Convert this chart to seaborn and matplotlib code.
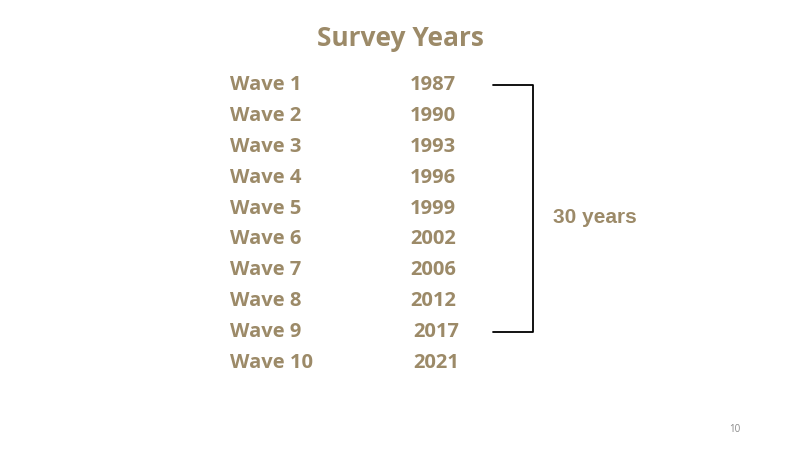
import matplotlib
matplotlib.use("Agg")
import matplotlib.pyplot as plt
import seaborn as sns

# Data
waves = ["Wave 1", "Wave 2", "Wave 3", "Wave 4", "Wave 5",
         "Wave 6", "Wave 7", "Wave 8", "Wave 9", "Wave 10"]
years = ["1987", "1990", "1993", "1996", "1999",
         "2002", "2006", "2012", "2017", "2021"]
span_label = "30 years"
span_rows = (0, 8)  # bracket from Wave 1 to Wave 9

sns.set_theme(style="white")
plt.rcParams['font.family'] = ['Open Sans', 'DejaVu Sans']

tan = "#9C8A68"
fig = plt.figure(figsize=(8, 4.5), dpi=100)
ax = fig.add_axes([0, 0, 1, 1])
ax.set_xlim(0, 800)
ax.set_ylim(450, 0)
ax.axis("off")

ax.text(400, 38, "Survey Years", ha="center", va="center", fontsize=19,
        fontweight="bold", color=tan)

y0, dy = 85, 30.9
for i, (w, yr) in enumerate(zip(waves, years)):
    y = y0 + i * dy
    ax.text(230, y, w, ha="left", va="center", fontsize=14.5,
            fontweight="bold", color=tan)
    xo = 410 if i < 8 else 413
    ax.text(xo, y, yr, ha="left", va="center", fontsize=14.5,
            fontweight="bold", color=tan)

ya = y0 + span_rows[0] * dy
yb = y0 + span_rows[1] * dy
ax.plot([493, 533, 533, 493], [ya, ya, yb, yb], color="black", lw=1.3)
ax.text(553, (ya + yb) / 2 + 9, span_label, ha="left", va="center",
        fontsize=15, fontweight="bold", color=tan, family="Liberation Sans")

ax.text(735, 430, "10", ha="center", va="center", fontsize=7, color="#888888")

fig.savefig("out.png", dpi=100, facecolor="white")
